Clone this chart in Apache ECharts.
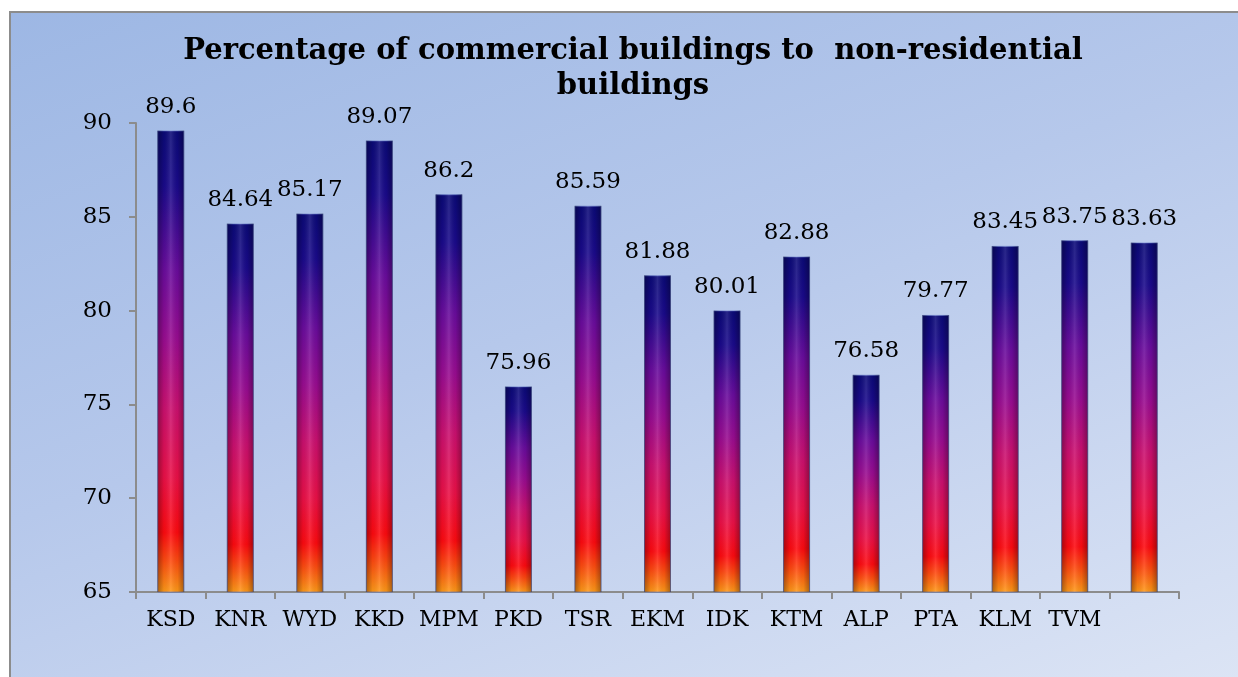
<!DOCTYPE html>
<html>
<head>
<meta charset="utf-8">
<script src="https://cdn.jsdelivr.net/npm/echarts@6/dist/echarts.min.js"></script>
<style>
  html, body { margin: 0; padding: 0; background: #fff; overflow: hidden; }
  #frame {
    position: absolute; left: 9px; top: 11px; width: 1240px; height: 680px;
    border: 2px solid #8c8c8c;
    background: linear-gradient(160deg, #9db7e4 0%, #b6c8eb 45%, #dde5f5 100%);
  }
  #chart { position: absolute; left: 0; top: 0; width: 1238px; height: 677px; }
</style>
</head>
<body>
<div id="frame"></div>
<div id="chart"></div>
<script>
// districts (last bar has no label in the original)
const categories = ['KSD', 'KNR', 'WYD', 'KKD', 'MPM', 'PKD', 'TSR', 'EKM', 'IDK', 'KTM', 'ALP', 'PTA', 'KLM', 'TVM', '']
const percentages = [89.6, 84.64, 85.17, 89.07, 86.2, 75.96, 85.59, 81.88, 80.01, 82.88, 76.58, 79.77, 83.45, 83.75, 83.63]
const yTicks = { min: 65, max: 90, interval: 5 }

const font = 'DejaVu Serif'
const chart = echarts.init(document.getElementById('chart'))

chart.setOption({
  animation: false,
  title: {
    text: 'Percentage of commercial buildings to  non-residential\nbuildings',
    left: 628,
    top: 29,
    textAlign: 'center',
    textStyle: { fontFamily: font, fontWeight: 'bold', fontSize: 29, lineHeight: 35, color: '#000' },
  },
  grid: { left: 136, top: 123, right: 59, bottom: 85 },
  xAxis: {
    type: 'category',
    data: categories,
    axisLine: { lineStyle: { color: '#8c8c8c', width: 2 } },
    axisTick: { show: true, length: 7, lineStyle: { color: '#8c8c8c', width: 2 } },
    axisLabel: { color: '#000', fontFamily: font, fontSize: 22, margin: 17, interval: 0 },
  },
  yAxis: {
    type: 'value',
    min: yTicks.min,
    max: yTicks.max,
    interval: yTicks.interval,
    axisLine: { show: true, lineStyle: { color: '#8c8c8c', width: 2 } },
    axisTick: { show: true, length: 7, lineStyle: { color: '#8c8c8c', width: 2 } },
    splitLine: { show: false },
    axisLabel: { color: '#000', fontFamily: font, fontSize: 23, margin: 24 },
  },
  series: [
    {
      type: 'bar',
      data: percentages,
      barWidth: 27,
      itemStyle: {
        borderColor: 'rgba(90,110,200,0.6)',
        borderWidth: 1,
        color: new echarts.graphic.LinearGradient(0, 0, 0, 1, [
          { offset: 0, color: '#0b0a78' },
          { offset: 0.12, color: '#1a0a8c' },
          { offset: 0.3, color: '#6a0c9e' },
          { offset: 0.45, color: '#9a0c92' },
          { offset: 0.6, color: '#cc1070' },
          { offset: 0.75, color: '#ec1048' },
          { offset: 0.87, color: '#ff0a10' },
          { offset: 0.93, color: '#ff4a10' },
          { offset: 1, color: '#ff9c18' },
        ]),
      },
      label: {
        show: true,
        position: 'top',
        distance: 12,
        color: '#000',
        fontFamily: font,
        fontSize: 23,
      },
    },
    {
      // cylinder shading laid over the same bars
      type: 'bar',
      data: percentages,
      barWidth: 27,
      barGap: '-100%',
      silent: true,
      itemStyle: {
        color: new echarts.graphic.LinearGradient(0, 0, 1, 0, [
          { offset: 0, color: 'rgba(0,0,0,0.35)' },
          { offset: 0.25, color: 'rgba(0,0,0,0.05)' },
          { offset: 0.5, color: 'rgba(255,255,255,0.12)' },
          { offset: 0.75, color: 'rgba(0,0,0,0.05)' },
          { offset: 1, color: 'rgba(0,0,0,0.35)' },
        ]),
      },
    },
  ],
})
</script>
</body>
</html>
